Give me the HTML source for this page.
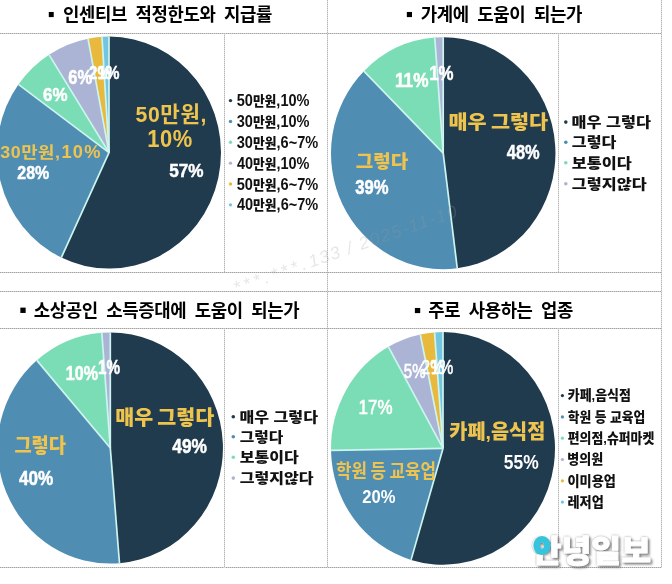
<!DOCTYPE html>
<html lang="ko"><head><meta charset="utf-8"><title>설문 결과</title>
<style>
html,body{margin:0;padding:0;background:#fff}
svg{display:block;font-family:"Liberation Sans","Noto Sans CJK KR",sans-serif}
</style></head>
<body>
<svg width="672" height="584" viewBox="0 0 672 584">
<rect width="672" height="584" fill="#fff"/>
<g style="filter:blur(0.35px)">
<line x1="0" y1="33.5" x2="662" y2="33.5" stroke="#d0d0d0" stroke-width="1"/><line x1="0" y1="33.5" x2="662" y2="33.5" stroke="#a2a2a2" stroke-width="1" stroke-dasharray="1,1"/>
<line x1="0" y1="272.5" x2="662" y2="272.5" stroke="#d0d0d0" stroke-width="1"/><line x1="0" y1="272.5" x2="662" y2="272.5" stroke="#a2a2a2" stroke-width="1" stroke-dasharray="1,1"/>
<line x1="0" y1="291.5" x2="662" y2="291.5" stroke="#d0d0d0" stroke-width="1"/><line x1="0" y1="291.5" x2="662" y2="291.5" stroke="#a2a2a2" stroke-width="1" stroke-dasharray="1,1"/>
<line x1="0" y1="328.5" x2="662" y2="328.5" stroke="#d0d0d0" stroke-width="1"/><line x1="0" y1="328.5" x2="662" y2="328.5" stroke="#a2a2a2" stroke-width="1" stroke-dasharray="1,1"/>
<line x1="0" y1="567.5" x2="662" y2="567.5" stroke="#d0d0d0" stroke-width="1"/><line x1="0" y1="567.5" x2="662" y2="567.5" stroke="#a2a2a2" stroke-width="1" stroke-dasharray="1,1"/>
<line x1="327.5" y1="0" x2="327.5" y2="568" stroke="#dcdcdc" stroke-width="1"/><line x1="327.5" y1="0" x2="327.5" y2="568" stroke="#b6b6b6" stroke-width="1" stroke-dasharray="1,1"/>
<line x1="661.5" y1="0" x2="661.5" y2="568" stroke="#dcdcdc" stroke-width="1"/><line x1="661.5" y1="0" x2="661.5" y2="568" stroke="#b6b6b6" stroke-width="1" stroke-dasharray="1,1"/>
<line x1="224.5" y1="33" x2="224.5" y2="272" stroke="#dcdcdc" stroke-width="1"/><line x1="224.5" y1="33" x2="224.5" y2="272" stroke="#b6b6b6" stroke-width="1" stroke-dasharray="1,1"/>
<line x1="558.5" y1="33" x2="558.5" y2="272" stroke="#dcdcdc" stroke-width="1"/><line x1="558.5" y1="33" x2="558.5" y2="272" stroke="#b6b6b6" stroke-width="1" stroke-dasharray="1,1"/>
<line x1="224.5" y1="328" x2="224.5" y2="568" stroke="#dcdcdc" stroke-width="1"/><line x1="224.5" y1="328" x2="224.5" y2="568" stroke="#b6b6b6" stroke-width="1" stroke-dasharray="1,1"/>
<line x1="558.5" y1="328" x2="558.5" y2="568" stroke="#dcdcdc" stroke-width="1"/><line x1="558.5" y1="328" x2="558.5" y2="568" stroke="#b6b6b6" stroke-width="1" stroke-dasharray="1,1"/>
<path d="M109.00,152.60 L109.00,36.60 A112.0,116.0 0 1 1 61.31,257.56 Z" fill="#203a4e"/>
<path d="M109.00,152.60 L61.31,257.56 A112.0,116.0 0 0 1 18.39,84.42 Z" fill="#4f8db3"/>
<path d="M109.00,152.60 L18.39,84.42 A112.0,116.0 0 0 1 48.99,54.66 Z" fill="#7bddb5"/>
<path d="M109.00,152.60 L48.99,54.66 A112.0,116.0 0 0 1 88.01,38.65 Z" fill="#abb4d5"/>
<path d="M109.00,152.60 L88.01,38.65 A112.0,116.0 0 0 1 101.97,36.83 Z" fill="#e8b93c"/>
<path d="M109.00,152.60 L101.97,36.83 A112.0,116.0 0 0 1 109.00,36.60 Z" fill="#74c6e0"/>
<line x1="109.00" y1="152.60" x2="109.00" y2="36.60" stroke="#cdf4ee" stroke-width="1.7"/>
<line x1="109.00" y1="152.60" x2="61.31" y2="257.56" stroke="#cdf4ee" stroke-width="1.7"/>
<line x1="109.00" y1="152.60" x2="18.39" y2="84.42" stroke="#cdf4ee" stroke-width="1.7"/>
<line x1="109.00" y1="152.60" x2="48.99" y2="54.66" stroke="#cdf4ee" stroke-width="1.7"/>
<line x1="109.00" y1="152.60" x2="88.01" y2="38.65" stroke="#cdf4ee" stroke-width="1.7"/>
<line x1="109.00" y1="152.60" x2="101.97" y2="36.83" stroke="#cdf4ee" stroke-width="1.7"/>
<path d="M443.20,153.20 L443.20,37.20 A112.2,116.0 0 0 1 457.26,268.29 Z" fill="#203a4e"/>
<path d="M443.20,153.20 L457.26,268.29 A112.2,116.0 0 0 1 363.86,71.18 Z" fill="#4f8db3"/>
<path d="M443.20,153.20 L363.86,71.18 A112.2,116.0 0 0 1 434.75,37.53 Z" fill="#7bddb5"/>
<path d="M443.20,153.20 L434.75,37.53 A112.2,116.0 0 0 1 443.20,37.20 Z" fill="#abb4d5"/>
<line x1="443.20" y1="153.20" x2="443.20" y2="37.20" stroke="#cdf4ee" stroke-width="1.7"/>
<line x1="443.20" y1="153.20" x2="457.26" y2="268.29" stroke="#cdf4ee" stroke-width="1.7"/>
<line x1="443.20" y1="153.20" x2="363.86" y2="71.18" stroke="#cdf4ee" stroke-width="1.7"/>
<line x1="443.20" y1="153.20" x2="434.75" y2="37.53" stroke="#cdf4ee" stroke-width="1.7"/>
<path d="M110.30,448.00 L110.30,332.40 A112.7,115.6 0 0 1 119.50,563.21 Z" fill="#203a4e"/>
<path d="M110.30,448.00 L119.50,563.21 A112.7,115.6 0 0 1 36.84,360.33 Z" fill="#4f8db3"/>
<path d="M110.30,448.00 L36.84,360.33 A112.7,115.6 0 0 1 101.81,332.73 Z" fill="#7bddb5"/>
<path d="M110.30,448.00 L101.81,332.73 A112.7,115.6 0 0 1 110.30,332.40 Z" fill="#abb4d5"/>
<line x1="110.30" y1="448.00" x2="110.30" y2="332.40" stroke="#cdf4ee" stroke-width="1.7"/>
<line x1="110.30" y1="448.00" x2="119.50" y2="563.21" stroke="#cdf4ee" stroke-width="1.7"/>
<line x1="110.30" y1="448.00" x2="36.84" y2="360.33" stroke="#cdf4ee" stroke-width="1.7"/>
<line x1="110.30" y1="448.00" x2="101.81" y2="332.73" stroke="#cdf4ee" stroke-width="1.7"/>
<path d="M443.00,448.40 L443.00,332.10 A112.0,116.3 0 1 1 411.08,559.88 Z" fill="#203a4e"/>
<path d="M443.00,448.40 L411.08,559.88 A112.0,116.3 0 0 1 331.02,450.45 Z" fill="#4f8db3"/>
<path d="M443.00,448.40 L331.02,450.45 A112.0,116.3 0 0 1 388.43,346.84 Z" fill="#7bddb5"/>
<path d="M443.00,448.40 L388.43,346.84 A112.0,116.3 0 0 1 420.29,334.52 Z" fill="#abb4d5"/>
<path d="M443.00,448.40 L420.29,334.52 A112.0,116.3 0 0 1 434.56,332.43 Z" fill="#e8b93c"/>
<path d="M443.00,448.40 L434.56,332.43 A112.0,116.3 0 0 1 443.00,332.10 Z" fill="#74c6e0"/>
<line x1="443.00" y1="448.40" x2="443.00" y2="332.10" stroke="#cdf4ee" stroke-width="1.7"/>
<line x1="443.00" y1="448.40" x2="411.08" y2="559.88" stroke="#cdf4ee" stroke-width="1.7"/>
<line x1="443.00" y1="448.40" x2="331.02" y2="450.45" stroke="#cdf4ee" stroke-width="1.7"/>
<line x1="443.00" y1="448.40" x2="388.43" y2="346.84" stroke="#cdf4ee" stroke-width="1.7"/>
<line x1="443.00" y1="448.40" x2="420.29" y2="334.52" stroke="#cdf4ee" stroke-width="1.7"/>
<line x1="443.00" y1="448.40" x2="434.56" y2="332.43" stroke="#cdf4ee" stroke-width="1.7"/>
<text transform="translate(236,294) rotate(-19.3)" font-size="17.5" fill="#9a9a9a" opacity="0.24" font-style="italic" letter-spacing="1.6"><tspan letter-spacing="3.6">***.***.</tspan>133 / 2025-11-10</text>
<text transform="matrix(1.2500,0,0,1.3000,47.66,21.20)" font-size="16" font-weight="700" fill="#000000">▪</text>
<text transform="matrix(0.9890,0,0,1.0090,63.11,21.43)" font-size="18" font-weight="700" letter-spacing="-0.4" word-spacing="4.1" fill="#000000">인센티브 적정한도와 지급률</text>
<text transform="matrix(1.3000,0,0,1.3000,405.82,21.20)" font-size="16" font-weight="700" fill="#000000">▪</text>
<text transform="matrix(0.9914,0,0,1.0090,420.66,21.43)" font-size="18" font-weight="700" letter-spacing="-0.4" word-spacing="4.1" fill="#000000">가계에 도움이 되는가</text>
<text transform="matrix(1.3500,0,0,1.3500,19.19,317.45)" font-size="16" font-weight="700" fill="#000000">▪</text>
<text transform="matrix(0.9894,0,0,0.9970,33.86,316.96)" font-size="18" font-weight="700" letter-spacing="-0.4" word-spacing="4.1" fill="#000000">소상공인 소득증대에 도움이 되는가</text>
<text transform="matrix(1.3500,0,0,1.3000,413.79,317.00)" font-size="16" font-weight="700" fill="#000000">▪</text>
<text transform="matrix(0.9863,0,0,1.0149,428.36,317.22)" font-size="18" font-weight="700" letter-spacing="-0.4" word-spacing="4.1" fill="#000000">주로 사용하는 업종</text>
<text transform="matrix(1.0110,0,0,1.0143,135.49,121.60)" font-size="21" font-weight="700" letter-spacing="0.6" fill="#efc44e">50만원,</text>
<text transform="matrix(0.9977,0,0,1.1290,147.25,147.12)" font-size="22" font-weight="700" letter-spacing="0.6" fill="#efc44e">10%</text>
<text transform="matrix(1.0091,0,0,1.0894,169.20,177.30)" font-size="17" font-weight="700" stroke="#ffffff" stroke-width="0.45" fill="#ffffff">57%</text>
<text transform="matrix(0.9915,0,0,0.8845,0.30,157.57)" font-size="18" font-weight="700" letter-spacing="0.5" fill="#efc44e">30만원,</text>
<text transform="matrix(1.0150,0,0,1.0118,61.43,158.20)" font-size="18" font-weight="700" letter-spacing="1.2" fill="#efc44e">10%</text>
<text transform="matrix(0.9394,0,0,1.0723,17.33,178.80)" font-size="17" font-weight="700" stroke="#ffffff" stroke-width="0.45" fill="#ffffff">28%</text>
<text transform="matrix(0.9978,0,0,1.0638,43.05,100.50)" font-size="17" font-weight="700" stroke="#ffffff" stroke-width="0.45" fill="#ffffff">6%</text>
<text transform="matrix(0.9677,0,0,1.1745,68.27,84.00)" font-size="17" font-weight="700" stroke="#ffffff" stroke-width="0.45" fill="#ffffff">6%</text>
<text transform="matrix(0.8936,0,0,1.1234,89.05,79.00)" font-size="17" font-weight="700" stroke="#ffffff" stroke-width="0.45" fill="#ffffff">2%</text>
<text transform="matrix(0.8913,0,0,1.1234,97.61,79.00)" font-size="17" font-weight="700" stroke="#ffffff" stroke-width="0.45" fill="#ffffff">1%</text>
<text transform="matrix(1.0124,0,0,0.9590,448.53,128.84)" font-size="20.5" font-weight="900" word-spacing="-1.5" fill="#efc44e">매우 그렇다</text>
<text transform="matrix(0.9654,0,0,1.1404,506.76,158.80)" font-size="17" font-weight="700" stroke="#ffffff" stroke-width="0.45" fill="#ffffff">48%</text>
<text transform="matrix(1.0010,0,0,0.9753,355.75,168.45)" font-size="19" font-weight="900" fill="#efc44e">그렇다</text>
<text transform="matrix(0.9788,0,0,1.1660,355.21,194.20)" font-size="17" font-weight="700" stroke="#ffffff" stroke-width="0.45" fill="#ffffff">39%</text>
<text transform="matrix(1.0142,0,0,1.1915,394.99,86.80)" font-size="17" font-weight="700" stroke="#ffffff" stroke-width="0.45" fill="#ffffff">11%</text>
<text transform="matrix(0.9913,0,0,1.1404,429.21,80.10)" font-size="17" font-weight="700" stroke="#ffffff" stroke-width="0.45" fill="#ffffff">1%</text>
<text transform="matrix(1.0072,0,0,0.9949,115.14,424.56)" font-size="20.5" font-weight="900" word-spacing="-1.5" fill="#efc44e">매우 그렇다</text>
<text transform="matrix(1.0195,0,0,1.1574,172.25,452.90)" font-size="17" font-weight="700" stroke="#ffffff" stroke-width="0.45" fill="#ffffff">49%</text>
<text transform="matrix(0.9611,0,0,1.0240,14.38,453.15)" font-size="19.5" font-weight="900" fill="#efc44e">그렇다</text>
<text transform="matrix(1.0075,0,0,1.1660,18.95,485.40)" font-size="17" font-weight="700" stroke="#ffffff" stroke-width="0.45" fill="#ffffff">40%</text>
<text transform="matrix(0.9477,0,0,1.2000,65.75,380.20)" font-size="17" font-weight="700" stroke="#ffffff" stroke-width="0.45" fill="#ffffff">10%</text>
<text transform="matrix(0.9000,0,0,1.1404,98.00,373.50)" font-size="17" font-weight="700" stroke="#ffffff" stroke-width="0.45" fill="#ffffff">1%</text>
<text transform="matrix(0.9848,0,0,1.0127,449.31,438.56)" font-size="20" font-weight="900" fill="#efc44e">카페,음식점</text>
<text transform="matrix(1.0273,0,0,1.1489,503.79,469.00)" font-size="17" font-weight="600" fill="#ffffff">55%</text>
<text transform="matrix(0.9362,0,0,1.0529,335.90,478.36)" font-size="18" font-weight="700" word-spacing="-1.2" fill="#efc44e">학원 등 교육업</text>
<text transform="matrix(0.9758,0,0,1.0638,362.31,503.40)" font-size="17" font-weight="600" fill="#ffffff">20%</text>
<text transform="matrix(0.9984,0,0,1.1404,358.55,414.10)" font-size="17" font-weight="400" stroke="#ffffff" stroke-width="0.55" fill="#ffffff">17%</text>
<text transform="matrix(0.8817,0,0,1.1404,403.84,378.40)" font-size="17" font-weight="400" stroke="#ffffff" stroke-width="0.55" fill="#ffffff">5%</text>
<text transform="matrix(0.9118,0,0,1.1489,421.62,374.00)" font-size="17" font-weight="400" stroke="#ffffff" stroke-width="0.55" fill="#ffffff">2%</text>
<text transform="matrix(0.9099,0,0,1.1489,430.86,374.00)" font-size="17" font-weight="400" stroke="#ffffff" stroke-width="0.55" fill="#ffffff">1%</text>
<circle cx="230.50" cy="100.60" r="1.7" fill="#203a4e"/>
<text transform="matrix(0.9555,0,0,1.03,236.72,106.14)" font-size="15.2" font-weight="900" fill="#111">50<tspan style="font-size:88%">만원</tspan>,10%</text>
<circle cx="230.50" cy="121.45" r="1.7" fill="#4f8db3"/>
<text transform="matrix(0.9555,0,0,1.03,236.72,126.98)" font-size="15.2" font-weight="900" fill="#111">30<tspan style="font-size:88%">만원</tspan>,10%</text>
<circle cx="230.50" cy="142.30" r="1.7" fill="#7bddb5"/>
<text transform="matrix(0.9583,0,0,1.03,236.72,147.84)" font-size="15.2" font-weight="900" fill="#111">30<tspan style="font-size:88%">만원</tspan>,6~7%</text>
<circle cx="230.50" cy="163.15" r="1.7" fill="#abb4d5"/>
<text transform="matrix(0.9523,0,0,1.03,236.96,168.69)" font-size="15.2" font-weight="900" fill="#111">40<tspan style="font-size:88%">만원</tspan>,10%</text>
<circle cx="230.50" cy="184.00" r="1.7" fill="#e8b93c"/>
<text transform="matrix(0.9583,0,0,1.03,236.72,189.53)" font-size="15.2" font-weight="900" fill="#111">50<tspan style="font-size:88%">만원</tspan>,6~7%</text>
<circle cx="230.50" cy="204.85" r="1.7" fill="#74c6e0"/>
<text transform="matrix(0.9555,0,0,1.03,236.96,210.38)" font-size="15.2" font-weight="900" fill="#111">40<tspan style="font-size:88%">만원</tspan>,6~7%</text>
<circle cx="565.80" cy="122.10" r="1.8" fill="#203a4e"/>
<text transform="matrix(1.1004,0,0,0.94,571.57,127.27)" font-size="14.8" font-weight="900" fill="#111">매우 그렇다</text>
<circle cx="565.80" cy="142.20" r="1.8" fill="#4f8db3"/>
<text transform="matrix(1.0900,0,0,0.94,571.86,147.37)" font-size="14.8" font-weight="900" fill="#111">그렇다</text>
<circle cx="565.80" cy="162.70" r="1.8" fill="#7bddb5"/>
<text transform="matrix(1.1014,0,0,0.94,571.85,167.87)" font-size="14.8" font-weight="900" fill="#111">보통이다</text>
<circle cx="565.80" cy="183.80" r="1.8" fill="#abb4d5"/>
<text transform="matrix(1.1004,0,0,0.94,571.85,188.97)" font-size="14.8" font-weight="900" fill="#111">그렇지않다</text>
<circle cx="233.30" cy="416.70" r="1.8" fill="#203a4e"/>
<text transform="matrix(1.0877,0,0,0.94,239.48,421.87)" font-size="14.8" font-weight="900" fill="#111">매우 그렇다</text>
<circle cx="233.30" cy="436.80" r="1.8" fill="#4f8db3"/>
<text transform="matrix(1.0675,0,0,0.94,239.77,441.97)" font-size="14.8" font-weight="900" fill="#111">그렇다</text>
<circle cx="233.30" cy="457.20" r="1.8" fill="#7bddb5"/>
<text transform="matrix(1.0847,0,0,0.94,239.76,462.37)" font-size="14.8" font-weight="900" fill="#111">보통이다</text>
<circle cx="233.30" cy="478.10" r="1.8" fill="#abb4d5"/>
<text transform="matrix(1.0870,0,0,0.94,239.76,483.27)" font-size="14.8" font-weight="900" fill="#111">그렇지않다</text>
<circle cx="562.40" cy="395.60" r="1.6" fill="#203a4e"/>
<text transform="matrix(0.9126,0,0,0.94,567.74,400.18)" font-size="14.2" font-weight="900" fill="#111">카페,음식점</text>
<circle cx="562.40" cy="416.90" r="1.6" fill="#4f8db3"/>
<text transform="matrix(0.8994,0,0,0.94,567.75,421.95)" font-size="14.2" font-weight="900" fill="#111">학원 등 교육업</text>
<circle cx="562.40" cy="438.20" r="1.6" fill="#7bddb5"/>
<text transform="matrix(0.9082,0,0,0.94,567.75,442.78)" font-size="14.2" font-weight="900" fill="#111">편의점,슈퍼마켓</text>
<circle cx="562.40" cy="459.50" r="1.6" fill="#abb4d5"/>
<text transform="matrix(0.9154,0,0,0.94,567.28,464.44)" font-size="14.2" font-weight="900" fill="#111">병의원</text>
<circle cx="562.40" cy="480.80" r="1.6" fill="#e8b93c"/>
<text transform="matrix(0.9274,0,0,0.94,567.50,485.74)" font-size="14.2" font-weight="900" fill="#111">이미용업</text>
<circle cx="562.40" cy="502.10" r="1.6" fill="#74c6e0"/>
<text transform="matrix(0.9289,0,0,0.94,567.50,507.04)" font-size="14.2" font-weight="900" fill="#111">레저업</text>
<defs><filter id="sh" x="-10%" y="-30%" width="125%" height="170%">
<feGaussianBlur in="SourceAlpha" stdDeviation="1.3" result="g"/>
<feFlood flood-color="#5a5a5a" flood-opacity="0.62" result="c1"/><feComposite in="c1" in2="g" operator="in" result="glow"/>
<feOffset in="g" dx="1.6" dy="2" result="o"/><feFlood flood-color="#4a4a4a" flood-opacity="0.6" result="c2"/><feComposite in="c2" in2="o" operator="in" result="drop"/>
<feMerge><feMergeNode in="drop"/><feMergeNode in="glow"/><feMergeNode in="SourceGraphic"/></feMerge></filter></defs>
<text transform="matrix(1.0130,0,0,0.9508,531.73,561.71)" font-size="32" font-weight="900" fill="#ffffff" stroke="#ffffff" stroke-width="0.9" stroke-linejoin="round" filter="url(#sh)">안녕일보</text>
<ellipse cx="542.0" cy="545.6" rx="5.4" ry="6.2" fill="none" stroke="#35c4dc" stroke-width="6.6"/>
</g>
</svg>
</body></html>
